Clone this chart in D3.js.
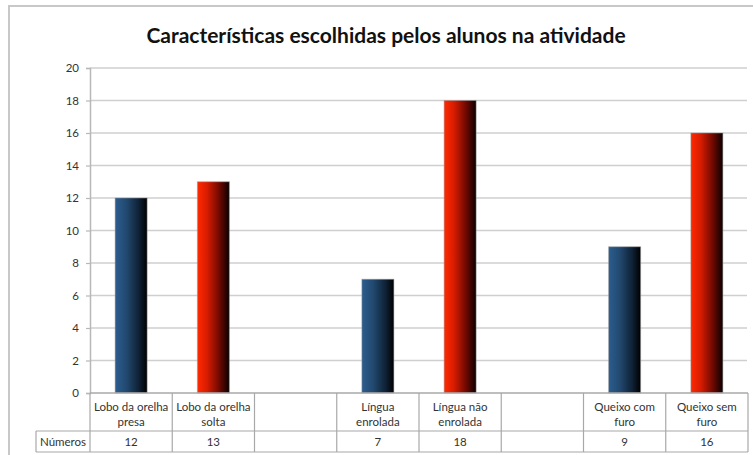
<!DOCTYPE html>
<html>
<head>
<meta charset="utf-8">
<script src="https://cdn.jsdelivr.net/npm/d3@7"></script>
<style>
  body { margin: 0; background: #fff; }
  text { font-family: Lato, "Noto Sans", sans-serif; fill: #333; }
</style>
</head>
<body>
<svg id="chart"></svg>
<script>
// ########## Data ##########
categories = [
  ["Lobo da orelha", "presa"],
  ["Lobo da orelha", "solta"],
  [],
  ["Língua", "enrolada"],
  ["Língua não", "enrolada"],
  [],
  ["Queixo com", "furo"],
  ["Queixo sem", "furo"]
];
values = [12, 13, null, 7, 18, null, 9, 16];
// which gradient each bar uses (first of a pair is blue, second is red)
barColors = ["blue", "red", null, "blue", "red", null, "blue", "red"];
seriesName = "Números";
yTicks = [0, 2, 4, 6, 8, 10, 12, 14, 16, 18, 20];
title = "Características escolhidas pelos alunos na atividade";

w = 753;
h = 455;

var margin = { left: 90, top: 68 };
var plotRight = 748;
var plotBottom = 393;
var labelSize = 11.5;

svg = d3.select("#chart")
  .attr("width", w)
  .attr("height", h);

// ########## Gradients ##########
var defs = svg.append("defs");
function addGradient(id, stops) {
  var g = defs.append("linearGradient").attr("id", id)
    .attr("x1", "0%").attr("x2", "100%").attr("y1", "0%").attr("y2", "0%");
  stops.forEach(function (s) {
    g.append("stop").attr("offset", s[0]).attr("stop-color", s[1]);
  });
}
addGradient("blueGrad", [["0%", "#2b5d8f"], ["35%", "#22496f"], ["75%", "#0e2034"], ["100%", "#000"]]);
addGradient("redGrad", [["0%", "#ff2a00"], ["30%", "#d81c00"], ["70%", "#6a0800"], ["100%", "#0a0000"]]);

// ########## Outer frame ##########
svg.append("rect")
  .attr("x", 9).attr("y", 6)
  .attr("width", 760).attr("height", 470)
  .attr("fill", "none")
  .attr("stroke", "#c8c8c8")
  .attr("stroke-width", 2);

// ########## Title ##########
svg.append("text")
  .attr("x", 386).attr("y", 43)
  .attr("text-anchor", "middle")
  .attr("font-size", 21)
  .attr("font-weight", "bold")
  .style("fill", "#111")
  .text(title);

// ########## Scales ##########
x = d3.scaleBand()
  .domain(d3.range(categories.length))
  .range([margin.left, plotRight])
  .padding(0);

y = d3.scaleLinear()
  .domain([0, 20])
  .range([plotBottom, margin.top]);

// ########## Grid ##########
svg.append("g")
  .selectAll("line")
  .data(yTicks.filter(function (d) { return d > 0; }))
  .enter().append("line")
  .attr("x1", margin.left).attr("x2", plotRight - 1)
  .attr("y1", function (d) { return y(d); })
  .attr("y2", function (d) { return y(d); })
  .attr("stroke", "#cfcfcf")
  .attr("stroke-width", 1.6);

// ########## Y axis ##########
var yAxis = svg.append("g")
  .attr("transform", "translate(" + margin.left + ",0)")
  .call(d3.axisLeft(y).tickValues(yTicks).tickSize(4).tickPadding(7));
yAxis.select(".domain").attr("stroke", "#b8b8b8").attr("stroke-width", 1.5);
yAxis.selectAll(".tick line").attr("stroke", "#b8b8b8").attr("stroke-width", 1.2);
yAxis.selectAll(".tick text")
  .attr("font-size", labelSize)
  .style("font-family", "Lato, 'Noto Sans', sans-serif")
  .style("fill", "#333");

// ########## Bars ##########
var barW = 32;
svg.append("g")
  .selectAll("rect")
  .data(values.map(function (v, i) { return { v: v, i: i }; }).filter(function (d) { return d.v != null; }))
  .enter().append("rect")
  .attr("x", function (d) { return x(d.i) + x.bandwidth() / 2 - barW / 2; })
  .attr("y", function (d) { return y(d.v); })
  .attr("width", barW)
  .attr("height", function (d) { return y(0) - y(d.v); })
  .attr("fill", function (d) { return barColors[d.i] === "blue" ? "url(#blueGrad)" : "url(#redGrad)"; })
  .attr("stroke", "#9a9a9a")
  .attr("stroke-opacity", 0.5)
  .attr("stroke-width", 1);

// ########## Data table ##########
var rowMid = 431;
var rowBottom = 452;
var tableColor = "#a8a8a8";
var table = svg.append("g");

// horizontal lines
table.append("line")
  .attr("x1", margin.left).attr("x2", plotRight)
  .attr("y1", plotBottom).attr("y2", plotBottom)
  .attr("stroke", tableColor).attr("stroke-width", 1.5);
table.append("line")
  .attr("x1", 36).attr("x2", plotRight)
  .attr("y1", rowMid).attr("y2", rowMid)
  .attr("stroke", tableColor).attr("stroke-width", 1.2);
table.append("line")
  .attr("x1", 36).attr("x2", plotRight)
  .attr("y1", rowBottom).attr("y2", rowBottom)
  .attr("stroke", tableColor).attr("stroke-width", 1.2);
table.append("line")
  .attr("x1", 36).attr("x2", 36)
  .attr("y1", rowMid).attr("y2", rowBottom)
  .attr("stroke", tableColor).attr("stroke-width", 1.2);

// vertical lines at category boundaries
var bounds = d3.range(categories.length + 1).map(function (i) {
  return i < categories.length ? x(i) : x(i - 1) + x.bandwidth();
});
table.selectAll(".vline")
  .data(bounds)
  .enter().append("line")
  .attr("class", "vline")
  .attr("x1", function (d) { return d; })
  .attr("x2", function (d) { return d; })
  .attr("y1", plotBottom)
  .attr("y2", rowBottom)
  .attr("stroke", tableColor).attr("stroke-width", 1.2);

// category labels
table.selectAll(".cat")
  .data(categories)
  .enter().append("text")
  .attr("class", "cat")
  .attr("text-anchor", "middle")
  .attr("font-size", labelSize)
  .each(function (d, i) {
    var t = d3.select(this);
    d.forEach(function (line, k) {
      t.append("tspan")
        .attr("x", x(i) + x.bandwidth() / 2)
        .attr("y", 411 + k * 15)
        .text(line);
    });
  });

// series name + values
table.append("text")
  .attr("x", 63).attr("y", 446)
  .attr("text-anchor", "middle")
  .attr("font-size", labelSize)
  .text(seriesName);

table.selectAll(".val")
  .data(values)
  .enter().append("text")
  .attr("class", "val")
  .attr("x", function (d, i) { return x(i) + x.bandwidth() / 2; })
  .attr("y", 446)
  .attr("text-anchor", "middle")
  .attr("font-size", labelSize)
  .text(function (d) { return d == null ? "" : d; });
</script>
</body>
</html>
